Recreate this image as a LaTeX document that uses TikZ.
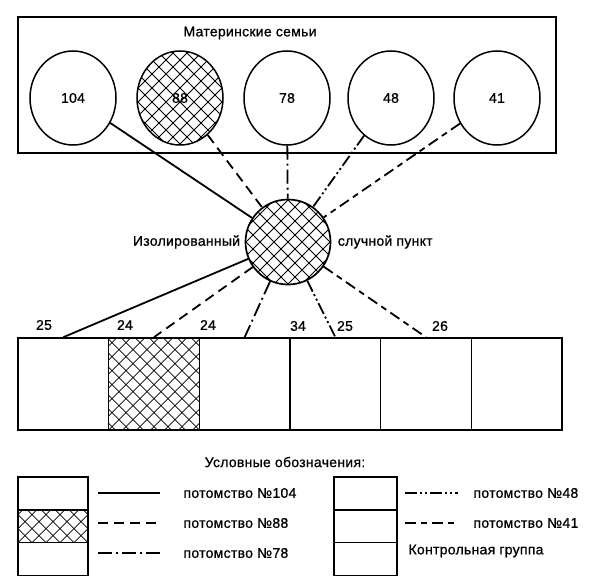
\documentclass[tikz,border=0pt]{standalone}
\usepackage{fontspec}
\setmainfont[LetterSpace=2,FakeBold=0.8]{Liberation Sans}
\usetikzlibrary{shapes.geometric,positioning}
\tikzset{hatch/.style={path picture={
  \foreach \k in {-238,-224,...,238}{
    \draw[line width=0.75pt] ([xshift=\k pt]path picture bounding box.south west) -- ++(200pt,200pt);
    \draw[line width=0.75pt] ([xshift=\k pt]path picture bounding box.south east) -- ++(-200pt,200pt);
  }}}}
\tikzset{fam/.style={ellipse,draw,line width=1.5pt,minimum width=86pt,minimum height=94pt,inner sep=0pt},
         cell/.style={rectangle,draw,line width=1.6pt,minimum width=90.67pt,minimum height=92pt,inner sep=0pt},
         legbox/.style={rectangle,draw,line width=1.4pt,minimum height=32.7pt,inner sep=0pt},
         p104/.style={line width=1.8pt},
         p88/.style={line width=1.8pt,dash pattern=on 10pt off 6pt},
         p78/.style={line width=1.8pt,dash pattern=on 14pt off 4pt on 2pt off 4pt},
         p48/.style={line width=1.8pt,dash pattern=on 12pt off 3pt on 2pt off 3pt on 2pt off 3pt},
         p41/.style={line width=1.8pt,dash pattern=on 11pt off 5pt on 6pt off 5pt}}

\begin{document}
\begin{tikzpicture}[x=1pt,y=-1pt,font=\fontsize{14}{16}\selectfont]
\useasboundingbox (0,0) rectangle (600,586);

%mother families
\draw[line width=1.6pt] (18,17) rectangle (556,153);
\node (title) at (250,33) {Материнские семьи};
\node[fam]       (m104) at (73,98)  {104};
\node[fam,hatch] (m88)  at (180,98) {88};
\node[fam]       (m78)  at (287,98) {78};
\node[fam]       (m48)  at (391,98) {48};
\node[fam]       (m41)  at (497,98) {41};

%isolated point
\node[circle,draw,line width=1.7pt,minimum size=85pt,inner sep=0pt,hatch] (hub) at (288,242) {};
\node[left=1pt of hub]  (hubl) {Изолированный};
\node[right=3pt of hub] (hubr) {случной пункт};

%groups
\foreach \i in {1,...,6}
  \node[cell] (c\i) at (18+90.67*\i-45.33,384) {};
\node[cell,hatch] at (c2) {};

%numbers
\node (n1) at (44,325)  {25};
\node (n2) at (125,325) {24};
\node (n3) at (208,325) {24};
\node (n4) at (298,326) {34};
\node (n5) at (345,326) {25};
\node (n6) at (440,326) {26};

%lines up
\draw[p104] (m104)--(hub);
\draw[p88]  (m88)--(hub);
\draw[p78]  (m78)--(hub);
\draw[p48]  (m48)--(hub);
\draw[p41]  (m41)--(hub);
%lines down
\draw[p104] (hub)--(c1.north);
\draw[p88]  (hub)--(c2.north);
\draw[p78]  (hub)--(c3.north);
\draw[p48]  (hub)--(c4.north);
\draw[p41]  (hub)--(c5.north);

%legend
\node (legt) at (285,462) {Условные обозначения:};
\node[legbox,minimum width=70pt]       (la) at (53,493.5) {};
\node[legbox,minimum width=70pt,hatch] (lb) at (53,526.2) {};
\node[legbox,minimum width=70pt]       (lc) at (53,558.9) {};
\node[legbox,minimum width=63pt]       (ld) at (365.5,493.5) {};
\node[legbox,minimum width=63pt]       (le) at (365.5,526.2) {};
\node[legbox,minimum width=63pt]       (lf) at (365.5,558.9) {};

\node[anchor=west] (t104) at (180,493) {потомство №104};
\node[anchor=west] (t88)  at (180,523) {потомство №88};
\node[anchor=west] (t78)  at (180,553) {потомство №78};
\node[anchor=west] (t48)  at (470,493) {потомство №48};
\node[anchor=west] (t41)  at (470,523) {потомство №41};
\node[anchor=west] (tc)   at (405,551) {Контрольная группа};

\draw[p104] ([xshift=-82pt]t104.west)--([xshift=-20pt]t104.west);
\draw[p88]  ([xshift=-82pt]t88.west)--([xshift=-20pt]t88.west);
\draw[p78]  ([xshift=-82pt]t78.west)--([xshift=-20pt]t78.west);
\draw[p48]  ([xshift=-65pt]t48.west)--([xshift=-12pt]t48.west);
\draw[p41]  ([xshift=-65pt]t41.west)--([xshift=-12pt]t41.west);
\end{tikzpicture}
\end{document}
